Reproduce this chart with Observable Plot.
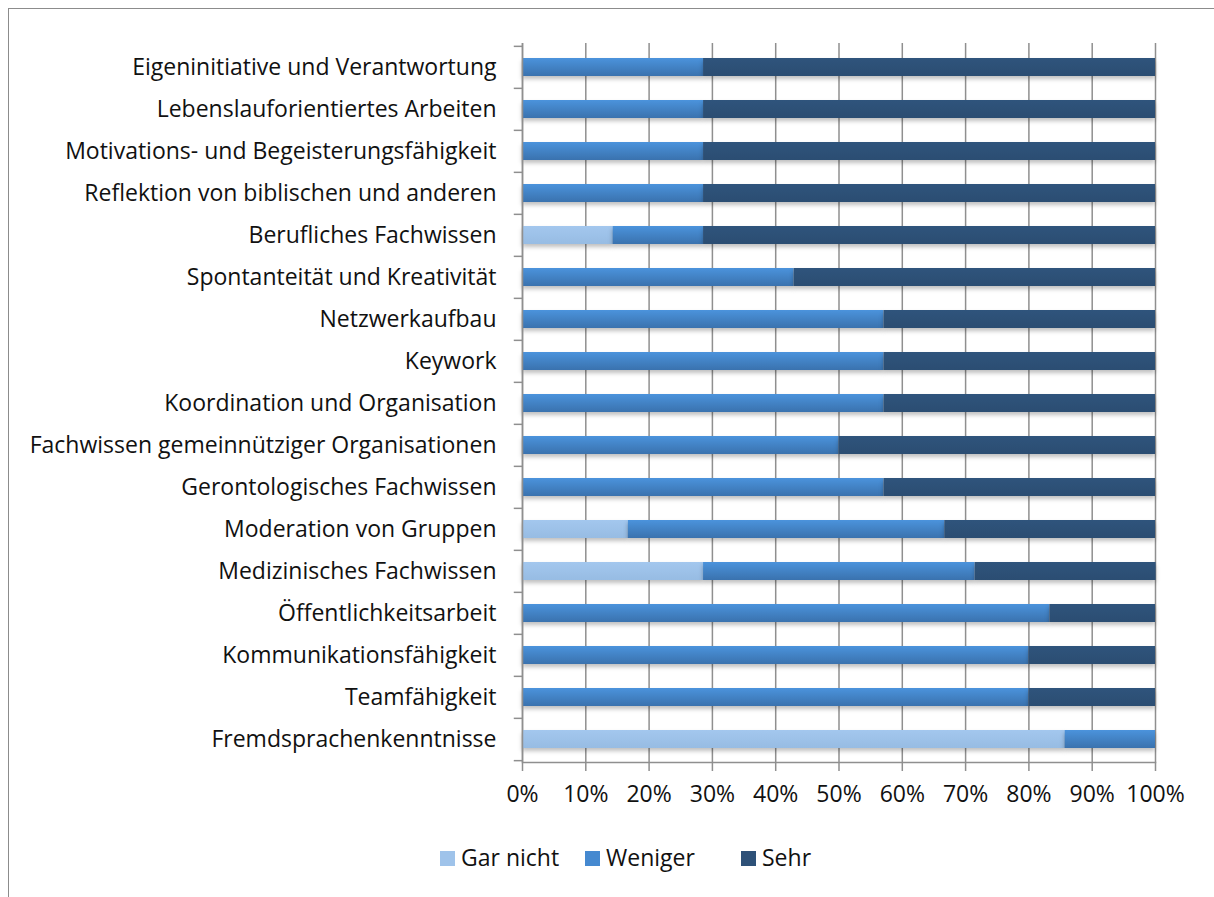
<!DOCTYPE html>
<html>
<head>
<meta charset="utf-8">
<script src="https://cdn.jsdelivr.net/npm/d3@7"></script>
<script src="https://cdn.jsdelivr.net/npm/@observablehq/plot@0.6"></script>
<style>
  html, body { margin: 0; padding: 0; background: #fff; overflow: hidden; }
  body { width: 1214px; height: 897px; position: relative; font-family: "Open Sans", sans-serif; }
  #frame { position: absolute; left: 8px; top: 8px; width: 1300px; height: 1000px; border: 1.5px solid #8c8c8c; box-sizing: border-box; }
  #chart { position: absolute; left: 0; top: 0; }
  #legend { position: absolute; top: 0; left: 0; width: 1214px; height: 897px; font-size: 23px; color: #111; pointer-events: none; }
  #legend .sw { position: absolute; width: 15px; height: 15px; top: 851px; }
  #legend .lab { position: absolute; top: 842px; line-height: 30px; white-space: nowrap; }
  g[aria-label="bar"] rect { filter: drop-shadow(0px 3px 2px rgba(0,0,0,0.25)); }
</style>
</head>
<body>
<div id="frame"></div>
<div id="chart"></div>
<div id="legend"></div>
<script>
const categories = [
  "Eigeninitiative und Verantwortung",
  "Lebenslauforientiertes Arbeiten",
  "Motivations- und Begeisterungsfähigkeit",
  "Reflektion von biblischen und anderen",
  "Berufliches Fachwissen",
  "Spontanteität und Kreativität",
  "Netzwerkaufbau",
  "Keywork",
  "Koordination und Organisation",
  "Fachwissen gemeinnütziger Organisationen",
  "Gerontologisches Fachwissen",
  "Moderation von Gruppen",
  "Medizinisches Fachwissen",
  "Öffentlichkeitsarbeit",
  "Kommunikationsfähigkeit",
  "Teamfähigkeit",
  "Fremdsprachenkenntnisse"
];
const seriesNames = ["Gar nicht", "Weniger", "Sehr"];
const garNicht = [0, 0, 0, 0, 14.3, 0, 0, 0, 0, 0, 0, 16.7, 28.6, 0, 0, 0, 85.7];
const weniger  = [28.6, 28.6, 28.6, 28.6, 14.3, 42.9, 57.1, 57.1, 57.1, 50, 57.1, 50, 42.9, 83.3, 80, 80, 14.3];
const sehr     = [71.4, 71.4, 71.4, 71.4, 71.4, 57.1, 42.9, 42.9, 42.9, 50, 42.9, 33.3, 28.6, 16.7, 20, 20, 0];
const xTicks = [0, 10, 20, 30, 40, 50, 60, 70, 80, 90, 100];
const seriesColors = ["#9fc3ea", "#4589d0", "#2e5178"];

const seriesValues = [garNicht, weniger, sehr];
const data = [];
categories.forEach((c, i) => {
  seriesNames.forEach((s, j) => data.push({cat: c, series: s, value: seriesValues[j][i]}));
});

const W = 1214, H = 820;
const mTop = 43, mBottom = H - 762, mLeft = 522, mRight = W - 1155;
const step = (H - mTop - mBottom) / categories.length;
const grid = "#8f8f8f";
const font = "'Open Sans', sans-serif";

const plot = Plot.plot({
  width: W, height: H,
  marginTop: mTop, marginBottom: mBottom, marginLeft: mLeft, marginRight: mRight,
  style: {fontFamily: font, fontSize: "23px", color: "#111", background: "transparent"},
  x: {domain: [0, 100]},
  y: {domain: categories, paddingInner: 0.58, paddingOuter: 0.29},
  color: {domain: seriesNames, range: ["url(#gG)", "url(#gW)", "url(#gS)"]},
  marks: [
    Plot.ruleX(xTicks, {x: d => d, stroke: grid, strokeWidth: 1.5}),
    Plot.axisX({ticks: xTicks, tickFormat: d => d + "%", tickSize: 9, tickPadding: 14, stroke: grid, strokeWidth: 1.5, fontSize: 23, label: null, color: "#111"}),
    Plot.axisY({tickSize: 0, tickPadding: 26, fontSize: 23, label: null}),
    Plot.ruleY(categories, {y: d => d, x1: -1.3, x2: 0, dy: -step / 2, stroke: grid, strokeWidth: 1.5}),
    Plot.ruleY(categories.slice(-1), {y: d => d, x1: -1.3, x2: 0, dy: step / 2, stroke: grid, strokeWidth: 1.5}),
    Plot.barX(data, Plot.stackX({x: "value", y: "cat", fill: "series", order: seriesNames})),
    Plot.ruleX([0], {stroke: grid, strokeWidth: 1.5}),
    Plot.frame({anchor: "bottom", stroke: grid, strokeWidth: 1.5})
  ]
});

// gradients for the bar fills
const defs = d3.select(plot).insert("defs", ":first-child");
[["gG", "#a3c7ee", "#97bce3"], ["gW", "#4b93dc", "#3a72ae"], ["gS", "#2f547c", "#2b4d72"]].forEach(([id, c1, c2]) => {
  const g = defs.append("linearGradient").attr("id", id).attr("x1", 0).attr("y1", 0).attr("x2", 0).attr("y2", 1);
  g.append("stop").attr("offset", "0%").attr("stop-color", c1);
  g.append("stop").attr("offset", "100%").attr("stop-color", c2);
});
document.getElementById("chart").appendChild(plot);

const legend = d3.select("#legend");
const legendX = [440, 585, 741];
seriesNames.forEach((s, i) => {
  legend.append("div").attr("class", "sw").style("left", legendX[i] + "px").style("background", seriesColors[i]);
  legend.append("span").attr("class", "lab").style("left", (legendX[i] + 21) + "px").text(s);
});
</script>
</body>
</html>
